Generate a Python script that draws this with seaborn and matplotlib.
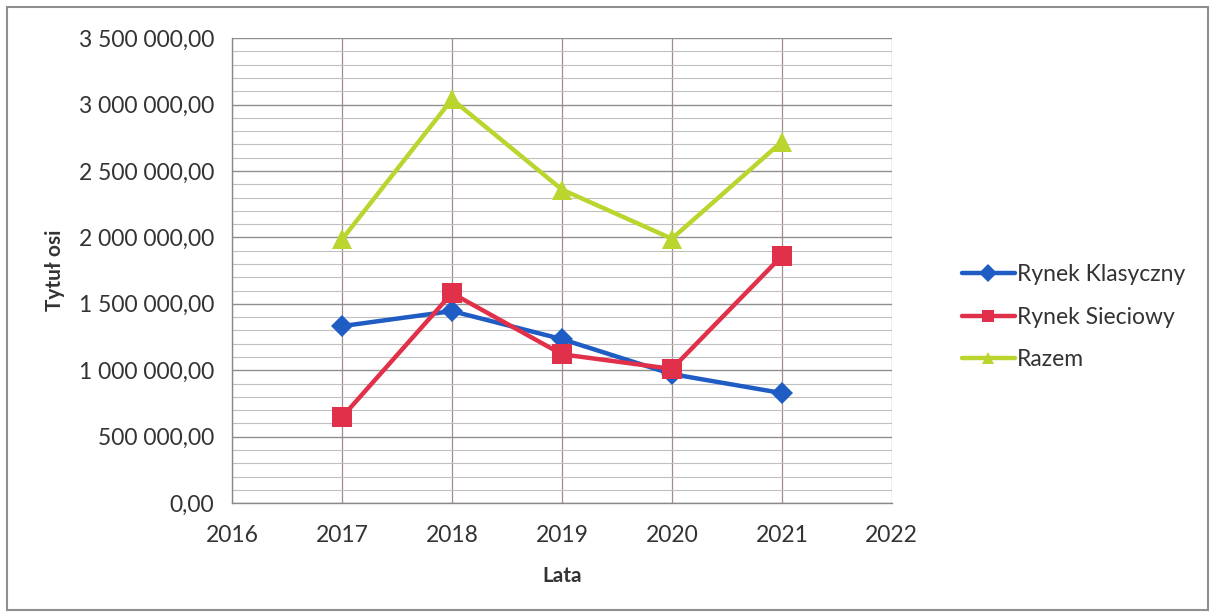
import pandas as pd
import numpy as np
import matplotlib
matplotlib.use("Agg")
import matplotlib.pyplot as plt
import seaborn as sns
from matplotlib.ticker import MultipleLocator, FuncFormatter
from matplotlib.patches import Rectangle

#data
years = [2017, 2018, 2019, 2020, 2021]
klasyczny = [1332000, 1445000, 1234000, 971000, 828000]
sieciowy = [647000, 1580000, 1120000, 1010000, 1860000]
razem = [1985000, 3040000, 2360000, 1990000, 2720000]
series_names = ["Rynek Klasyczny", "Rynek Sieciowy", "Razem"]

df = pd.DataFrame({
    "rok": years * 3,
    "wartosc": klasyczny + sieciowy + razem,
    "seria": [series_names[0]] * 5 + [series_names[1]] * 5 + [series_names[2]] * 5,
})

sns.set_style("white")
plt.rcParams["font.family"] = ["Lato", "DejaVu Sans"]

colors = {"Rynek Klasyczny": "#1f5cc4", "Rynek Sieciowy": "#e0304a", "Razem": "#bcd52e"}
markers = {"Rynek Klasyczny": "D", "Rynek Sieciowy": "s", "Razem": "^"}
sizes = {"Rynek Klasyczny": 11, "Rynek Sieciowy": 14, "Razem": 15}

fig = plt.figure(figsize=(12.15, 6.15), dpi=100)
ax = fig.add_axes([0.191, 0.182, 0.543, 0.756])

for name in series_names:
    sub = df[df["seria"] == name]
    sns.lineplot(data=sub, x="rok", y="wartosc", color=colors[name], marker=markers[name],
                 markersize=sizes[name], markeredgewidth=0, linewidth=3.2, label=name, ax=ax)

ax.set_xlim(2016, 2022)
ax.set_ylim(0, 3500000)
ax.xaxis.set_major_locator(MultipleLocator(1))
ax.yaxis.set_major_locator(MultipleLocator(500000))
ax.yaxis.set_minor_locator(MultipleLocator(100000))

def pl_fmt(v, pos):
    s = f"{v:,.2f}".replace(",", " ").replace(".", ",")
    return s

ax.yaxis.set_major_formatter(FuncFormatter(pl_fmt))
ax.grid(True, which="major", axis="y", color="#8f8f8f", linewidth=1.0)
ax.grid(True, which="minor", axis="y", color="#c0c0c0", linewidth=0.8)
ax.grid(True, which="major", axis="x", color="#a08c8c", linewidth=0.9)
ax.set_axisbelow(True)

for side in ["top", "right"]:
    ax.spines[side].set_visible(False)
for side in ["left", "bottom"]:
    ax.spines[side].set_color("#8a8a8a")
    ax.spines[side].set_linewidth(1.0)

ax.tick_params(axis="both", which="major", labelsize=16.5, colors="#333333",
               length=5, width=1, direction="out")
ax.tick_params(axis="x", which="major", pad=11)
ax.tick_params(axis="y", which="major", pad=8)
ax.tick_params(axis="y", which="minor", length=0)
ax.tick_params(axis="x", which="major", color="#8a8a8a")
ax.tick_params(axis="y", which="major", color="#8a8a8a")

ax.set_xlabel("Lata", fontsize=15, fontweight="bold", color="#333333", labelpad=14)
ax.set_ylabel("Tytuł osi", fontsize=15, fontweight="bold", color="#333333", labelpad=10)

leg = ax.legend(loc="center left", bbox_to_anchor=(1.075, 0.40), frameon=False,
                fontsize=16.5, handlelength=2.3, labelspacing=0.95, handletextpad=0.1)
for h in leg.legend_handles:
    h.set_markersize(9)
for t in leg.get_texts():
    t.set_color("#333333")

#outer chart frame
fig.patches.append(Rectangle((0.006, 0.008), 0.988, 0.98, transform=fig.transFigure,
                             fill=False, edgecolor="#8f8f8f", linewidth=1.5))

fig.savefig("out.png", dpi=100)
